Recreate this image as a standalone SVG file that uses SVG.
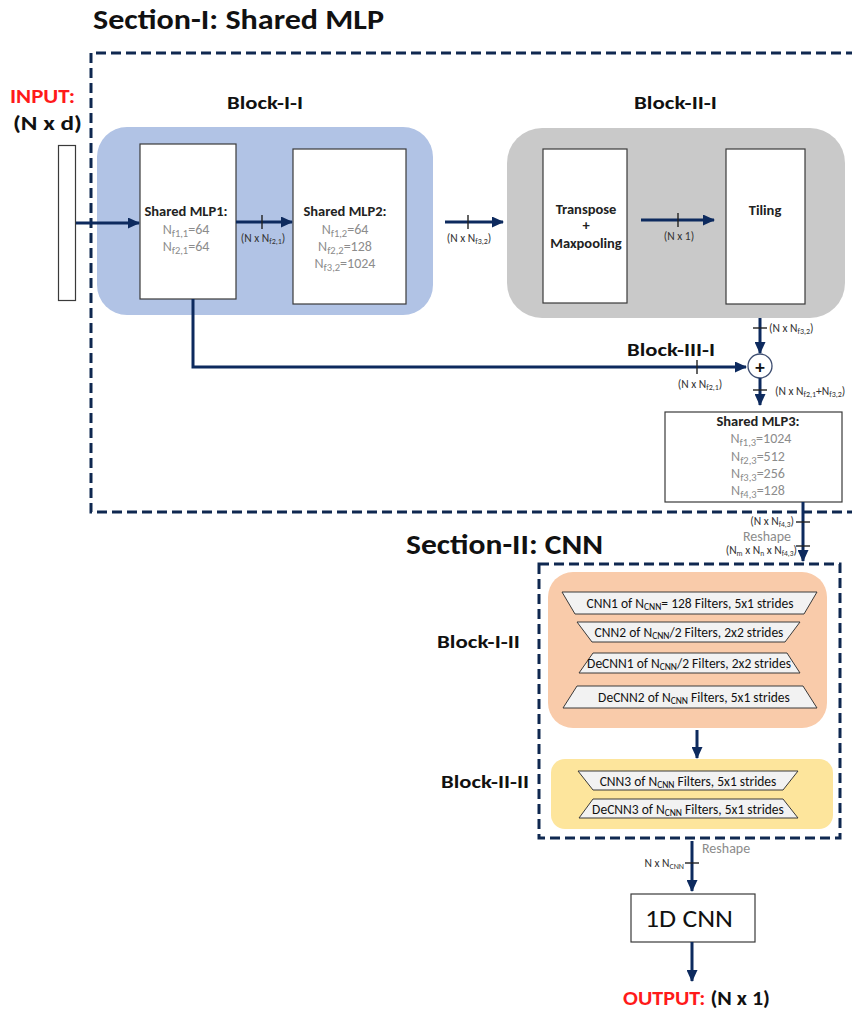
<svg xmlns="http://www.w3.org/2000/svg" width="852" height="1012" viewBox="0 0 852 1012">
  <style>
    text { font-family: Carlito, Lato, "Liberation Sans", sans-serif; }
    .ttl { font-size: 28px; font-weight: bold; fill: #111; }
    .blk { font-size: 19px; font-weight: bold; fill: #111; }
    .io { font-size: 20px; font-weight: bold; }
    .red { fill: #ff1a1a; }
    .hd { font-size: 14.5px; font-weight: bold; fill: #222; text-anchor: middle; }
    .val { font-size: 14px; fill: #8c8c8c; text-anchor: middle; }
    .dim { font-size: 11.5px; fill: #333; }
    .grey { font-size: 14px; fill: #8c8c8c; }
    .tt { font-size: 13.5px; fill: #111; text-anchor: middle; }
    .box { fill: #fff; stroke: #3a3a3a; stroke-width: 1.2; }
    .trap { fill: #f2f2f2; stroke: #3a3a3a; stroke-width: 1; }
    .frame { fill: none; stroke: #0f2850; stroke-width: 3; stroke-dasharray: 10 5; }
    .arr { fill: none; stroke: #0d2a5e; stroke-width: 3; }
    .tick { stroke: #222; stroke-width: 1.4; }
  </style>
  <defs>
    <marker id="ah" markerWidth="12" markerHeight="11" refX="11" refY="5.5" orient="auto" markerUnits="userSpaceOnUse">
      <path d="M0,0 L12,5.5 L0,11 z" fill="#0d2a5e"/>
    </marker>
  </defs>

  <!-- Section I frame and title -->
  <g id="section-1">
    <text class="ttl" x="93" y="29" textLength="291" lengthAdjust="spacingAndGlyphs">Section-I: Shared MLP</text>
    <path class="frame" d="M856,53 H91 V512 H856"/>
  </g>

  <!-- Input -->
  <g id="input">
    <text class="io red" x="10" y="103" textLength="65" lengthAdjust="spacingAndGlyphs">INPUT:</text>
    <text class="io" x="13" y="130" fill="#111" textLength="69" lengthAdjust="spacingAndGlyphs">(N x d)</text>
    <rect class="box" x="58.5" y="145.5" width="17" height="155"/>
  </g>

  <!-- Block I-I -->
  <g id="block-1-1">
    <text class="blk" x="227" y="109" textLength="76" lengthAdjust="spacingAndGlyphs">Block-I-I</text>
    <rect x="97" y="127" width="336" height="188" rx="30" fill="#b1c3e5"/>
  </g>
  <g id="mlp1">
    <rect class="box" x="140" y="144" width="96" height="155"/>
    <text class="hd" x="186" y="216">Shared MLP1:</text>
    <text class="val" x="186" y="234">N<tspan font-size="10.5" dy="3">f1,1</tspan><tspan dy="-3">=64</tspan></text>
    <text class="val" x="186" y="251">N<tspan font-size="10.5" dy="3">f2,1</tspan><tspan dy="-3">=64</tspan></text>
  </g>
  <g id="mlp2">
    <rect class="box" x="293" y="149" width="113" height="155"/>
    <text class="hd" x="345" y="216">Shared MLP2:</text>
    <text class="val" x="345" y="234">N<tspan font-size="10.5" dy="3">f1,2</tspan><tspan dy="-3">=64</tspan></text>
    <text class="val" x="345" y="251">N<tspan font-size="10.5" dy="3">f2,2</tspan><tspan dy="-3">=128</tspan></text>
    <text class="val" x="345" y="268">N<tspan font-size="10.5" dy="3">f3,2</tspan><tspan dy="-3">=1024</tspan></text>
  </g>

  <!-- Block II-I -->
  <g id="block-2-1">
    <text class="blk" x="634" y="109" textLength="83" lengthAdjust="spacingAndGlyphs">Block-II-I</text>
    <rect x="507" y="128" width="338" height="190" rx="35" fill="#c9c9c9"/>
  </g>
  <g id="transpose">
    <rect class="box" x="543" y="149" width="84" height="154"/>
    <text class="hd" x="586" y="214">Transpose</text>
    <text class="hd" x="586" y="230">+</text>
    <text class="hd" x="586" y="248">Maxpooling</text>
  </g>
  <g id="tiling">
    <rect class="box" x="726" y="149" width="79" height="155"/>
    <text class="hd" x="765" y="215">Tiling</text>
  </g>

  <!-- Block III-I -->
  <g id="block-3-1">
    <text class="blk" x="627" y="356" textLength="88" lengthAdjust="spacingAndGlyphs">Block-III-I</text>
  </g>
  <g id="concat">
    <circle cx="760" cy="366" r="12" fill="#fff" stroke="#3d4d70" stroke-width="1.3"/>
    <text x="760" y="372.5" font-size="19" font-weight="bold" fill="#111" text-anchor="middle">+</text>
  </g>
  <g id="mlp3">
    <rect class="box" x="665" y="412" width="177" height="90"/>
    <text class="hd" x="758" y="426">Shared MLP3:</text>
    <text class="val" x="761" y="443">N<tspan font-size="10.5" dy="3">f1,3</tspan><tspan dy="-3">=1024</tspan></text>
    <text class="val" x="758" y="461">N<tspan font-size="10.5" dy="3">f2,3</tspan><tspan dy="-3">=512</tspan></text>
    <text class="val" x="758" y="478">N<tspan font-size="10.5" dy="3">f3,3</tspan><tspan dy="-3">=256</tspan></text>
    <text class="val" x="758" y="495">N<tspan font-size="10.5" dy="3">f4,3</tspan><tspan dy="-3">=128</tspan></text>
  </g>

  <!-- Section II frame and title -->
  <g id="section-2">
    <text class="ttl" x="406" y="554" textLength="197" lengthAdjust="spacingAndGlyphs">Section-II: CNN</text>
    <rect class="frame" x="539" y="564" width="301" height="274"/>
  </g>

  <!-- Block I-II -->
  <g id="block-1-2">
    <text class="blk" x="437" y="648" textLength="83" lengthAdjust="spacingAndGlyphs">Block-I-II</text>
    <rect x="548" y="572" width="279" height="156" rx="25" fill="#f9cbaa"/>
    <polygon class="trap" points="562,592 817,592 804,614 575,614"/>
    <text class="tt" x="690" y="608">CNN1 of N<tspan font-size="9.5" dy="2">CNN</tspan><tspan dy="-2">= 128 Filters, 5x1 strides</tspan></text>
    <polygon class="trap" points="577,622 800,622 785,642 592,642"/>
    <text class="tt" x="689" y="637">CNN2 of N<tspan font-size="9.5" dy="2">CNN</tspan><tspan dy="-2">/2 Filters, 2x2 strides</tspan></text>
    <polygon class="trap" points="593,653 787,653 800,673 579,673"/>
    <text class="tt" x="689" y="668">DeCNN1 of N<tspan font-size="9.5" dy="2">CNN</tspan><tspan dy="-2">/2 Filters, 2x2 strides</tspan></text>
    <polygon class="trap" points="577,686 803,686 817,708 563,708"/>
    <text class="tt" x="694" y="702">DeCNN2 of N<tspan font-size="9.5" dy="2">CNN</tspan><tspan dy="-2"> Filters, 5x1 strides</tspan></text>
  </g>

  <!-- Block II-II -->
  <g id="block-2-2">
    <text class="blk" x="441" y="788" textLength="88" lengthAdjust="spacingAndGlyphs">Block-II-II</text>
    <rect x="551" y="759" width="282" height="70" rx="14" fill="#fde59c"/>
    <polygon class="trap" points="578,771 798,771 783,790 593,790"/>
    <text class="tt" x="688" y="786">CNN3 of N<tspan font-size="9.5" dy="2">CNN</tspan><tspan dy="-2"> Filters, 5x1 strides</tspan></text>
    <polygon class="trap" points="593,799 783,799 798,818 579,818"/>
    <text class="tt" x="688" y="814">DeCNN3 of N<tspan font-size="9.5" dy="2">CNN</tspan><tspan dy="-2"> Filters, 5x1 strides</tspan></text>
  </g>

  <!-- 1D CNN and output -->
  <g id="cnn1d">
    <rect class="box" x="631" y="894" width="124" height="48"/>
    <text x="645" y="927" font-size="25" fill="#111" textLength="88" lengthAdjust="spacingAndGlyphs">1D CNN</text>
  </g>
  <g id="output">
    <text class="io" x="623" y="1005" textLength="147" lengthAdjust="spacingAndGlyphs"><tspan class="red">OUTPUT:</tspan><tspan fill="#111"> (N x 1)</tspan></text>
  </g>

  <!-- Connectors -->
  <g id="connectors">
    <line class="arr" x1="76" y1="223" x2="139" y2="223" marker-end="url(#ah)"/>
    <line class="arr" x1="236" y1="222" x2="292" y2="222" marker-end="url(#ah)"/>
    <line class="arr" x1="445" y1="222" x2="503" y2="222" marker-end="url(#ah)"/>
    <line class="arr" x1="641" y1="220" x2="714" y2="220" marker-end="url(#ah)"/>
    <line class="arr" x1="760" y1="318" x2="760" y2="353" marker-end="url(#ah)"/>
    <path class="arr" d="M193,299 V367 H746" marker-end="url(#ah)"/>
    <line class="arr" x1="760" y1="378" x2="760" y2="405" marker-end="url(#ah)"/>
    <line class="arr" x1="803" y1="502" x2="803" y2="561" marker-end="url(#ah)"/>
    <line class="arr" x1="697" y1="730" x2="697" y2="758" marker-end="url(#ah)"/>
    <line class="arr" x1="692" y1="841" x2="692" y2="891" marker-end="url(#ah)"/>
    <line class="arr" x1="692" y1="942" x2="692" y2="981" marker-end="url(#ah)"/>

    <!-- dimension ticks -->
    <line class="tick" x1="262" y1="215" x2="262" y2="229"/>
    <line class="tick" x1="468" y1="215" x2="468" y2="229"/>
    <line class="tick" x1="678" y1="213" x2="678" y2="227"/>
    <line class="tick" x1="753" y1="328" x2="767" y2="328"/>
    <line class="tick" x1="697" y1="360" x2="697" y2="374"/>
    <line class="tick" x1="753" y1="390" x2="767" y2="390"/>
    <line class="tick" x1="796" y1="522" x2="810" y2="522"/>
    <line class="tick" x1="796" y1="546" x2="810" y2="546"/>
    <line class="tick" x1="685" y1="863" x2="699" y2="863"/>

    <!-- dimension labels -->
    <text class="dim" x="263" y="242" text-anchor="middle">(N x N<tspan font-size="8" dy="2">f2,1</tspan><tspan dy="-2">)</tspan></text>
    <text class="dim" x="469" y="242" text-anchor="middle">(N x N<tspan font-size="8" dy="2">f3,2</tspan><tspan dy="-2">)</tspan></text>
    <text class="dim" x="679" y="240" text-anchor="middle">(N x 1)</text>
    <text class="dim" x="769" y="332">(N x N<tspan font-size="8" dy="2">f3,2</tspan><tspan dy="-2">)</tspan></text>
    <text class="dim" x="700" y="388" text-anchor="middle">(N x N<tspan font-size="8" dy="2">f2,1</tspan><tspan dy="-2">)</tspan></text>
    <text class="dim" x="775" y="395">(N x N<tspan font-size="8" dy="2">f2,1</tspan><tspan dy="-2">+N</tspan><tspan font-size="8" dy="2">f3,2</tspan><tspan dy="-2">)</tspan></text>
    <text class="dim" x="794" y="525" font-size="10.5" text-anchor="end">(N x N<tspan font-size="7.5" dy="1.5">f4,3</tspan><tspan dy="-1.5">)</tspan></text>
    <text class="grey" x="767" y="541" font-size="12.5" text-anchor="middle">Reshape</text>
    <text class="dim" x="797" y="554" font-size="10.5" text-anchor="end">(N<tspan font-size="7.5" dy="1.5">m</tspan><tspan dy="-1.5"> x N</tspan><tspan font-size="7.5" dy="1.5">n</tspan><tspan dy="-1.5"> x N</tspan><tspan font-size="7.5" dy="1.5">f4,3</tspan><tspan dy="-1.5">)</tspan></text>
    <text class="grey" x="702" y="853">Reshape</text>
    <text class="dim" x="684" y="867" text-anchor="end">N x N<tspan font-size="8" dy="2">CNN</tspan></text>
  </g>
</svg>
